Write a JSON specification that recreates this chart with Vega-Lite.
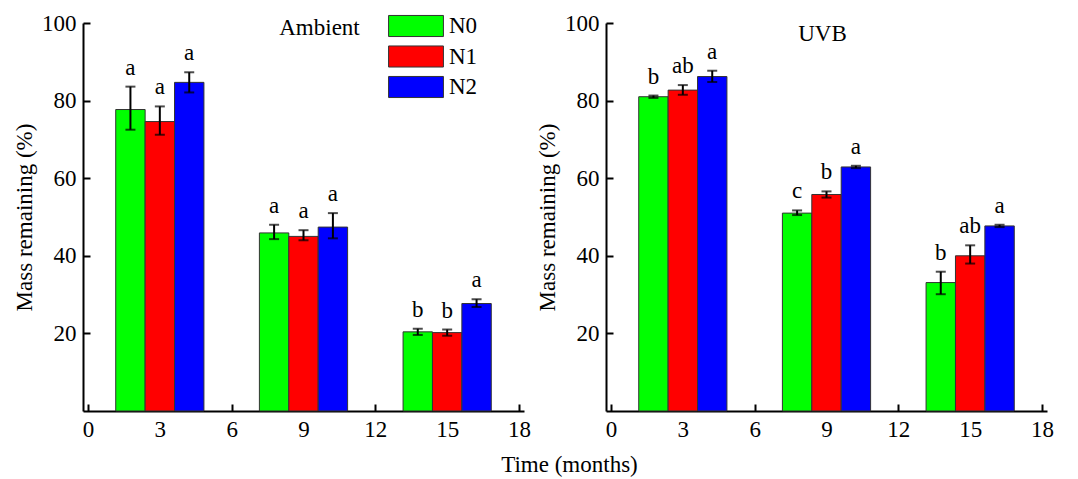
{
  "$schema": "https://vega.github.io/schema/vega-lite/v6.json",
  "background": "white",
  "padding": {"left": 13, "top": 10, "right": 0, "bottom": 0},
  "title": {"text": "Time (months)", "orient": "bottom", "anchor": "middle", "dx": 36, "offset": 13, "font": "Liberation Serif", "fontSize": 23, "fontWeight": "normal", "color": "black"},
  "data": {"values": [
    {"panel": "Ambient", "month": 3, "group": "N0", "mass": 77.7, "lo": 72.5, "hi": 83.6, "letter": "a"},
    {"panel": "Ambient", "month": 3, "group": "N1", "mass": 74.6, "lo": 71.2, "hi": 78.5, "letter": "a"},
    {"panel": "Ambient", "month": 3, "group": "N2", "mass": 84.7, "lo": 82.1, "hi": 87.3, "letter": "a"},
    {"panel": "Ambient", "month": 9, "group": "N0", "mass": 45.9, "lo": 44.3, "hi": 48.0, "letter": "a"},
    {"panel": "Ambient", "month": 9, "group": "N1", "mass": 45.0, "lo": 44.0, "hi": 46.6, "letter": "a"},
    {"panel": "Ambient", "month": 9, "group": "N2", "mass": 47.4, "lo": 44.5, "hi": 51.0, "letter": "a"},
    {"panel": "Ambient", "month": 15, "group": "N0", "mass": 20.4, "lo": 19.6, "hi": 21.2, "letter": "b"},
    {"panel": "Ambient", "month": 15, "group": "N1", "mass": 20.2, "lo": 19.4, "hi": 21.0, "letter": "b"},
    {"panel": "Ambient", "month": 15, "group": "N2", "mass": 27.7, "lo": 26.8, "hi": 28.8, "letter": "a"},
    {"panel": "UVB", "month": 3, "group": "N0", "mass": 81.0, "lo": 80.7, "hi": 81.3, "letter": "b"},
    {"panel": "UVB", "month": 3, "group": "N1", "mass": 82.7, "lo": 81.5, "hi": 84.0, "letter": "ab"},
    {"panel": "UVB", "month": 3, "group": "N2", "mass": 86.2, "lo": 84.8, "hi": 87.7, "letter": "a"},
    {"panel": "UVB", "month": 9, "group": "N0", "mass": 51.0, "lo": 50.5, "hi": 51.7, "letter": "c"},
    {"panel": "UVB", "month": 9, "group": "N1", "mass": 55.8, "lo": 55.0, "hi": 56.6, "letter": "b"},
    {"panel": "UVB", "month": 9, "group": "N2", "mass": 62.9, "lo": 62.6, "hi": 63.2, "letter": "a"},
    {"panel": "UVB", "month": 15, "group": "N0", "mass": 33.1, "lo": 30.1, "hi": 35.9, "letter": "b"},
    {"panel": "UVB", "month": 15, "group": "N1", "mass": 40.0, "lo": 38.0, "hi": 42.7, "letter": "ab"},
    {"panel": "UVB", "month": 15, "group": "N2", "mass": 47.7, "lo": 47.4, "hi": 48.0, "letter": "a"}
  ]},
  "spacing": 5,
  "resolve": {"legend": {"color": "independent"}},
  "hconcat": [
    {
      "width": 441, "height": 388,
      "title": {"text": "Ambient", "anchor": "middle", "frame": "group", "orient": "top", "offset": -48, "dx": 16, "baseline": "alphabetic", "font": "Liberation Serif", "fontSize": 23, "fontWeight": "normal", "color": "black"},
      "transform": [{"filter": "datum.panel === 'Ambient'"}],
      "encoding": {
        "x": {"field": "month", "type": "quantitative", "title": null, "scale": {"domain": [0, 18], "nice": false, "zero": false}, "axis": {"values": [0, 3, 6, 9, 12, 15, 18], "title": null}}
      },
      "layer": [
        {"transform": [{"filter": "datum.group === 'N0'"}], "mark": {"type": "bar", "width": 29.4, "xOffset": -29.4, "stroke": "#333333", "strokeWidth": 1},
         "encoding": {"y": {"field": "mass", "type": "quantitative", "title": "Mass remaining (%)", "scale": {"domain": [0, 100], "nice": false}, "axis": {"values": [20, 40, 60, 80, 100]}},
           "color": {"field": "group", "type": "nominal", "scale": {"domain": ["N0", "N1", "N2"], "range": ["#00ff00", "#ff0000", "#0000ff"]},
             "legend": {"orient": "none", "legendX": 317, "legendY": -13, "title": null, "padding": 0, "symbolType": "M-1.77,-0.68H1.77V0.68H-1.77Z", "symbolSize": 961, "symbolStrokeColor": "#333333", "symbolStrokeWidth": 1, "symbolOpacity": 1, "labelFont": "Liberation Serif", "labelFontSize": 23, "labelColor": "black", "rowPadding": 1.5, "labelOffset": 17}}}},
        {"transform": [{"filter": "datum.group === 'N1'"}], "mark": {"type": "bar", "width": 29.4, "xOffset": 0, "stroke": "#333333", "strokeWidth": 1},
         "encoding": {"y": {"field": "mass", "type": "quantitative", "title": "Mass remaining (%)", "scale": {"domain": [0, 100], "nice": false}, "axis": {"values": [20, 40, 60, 80, 100]}},
           "color": {"field": "group", "type": "nominal"}}},
        {"transform": [{"filter": "datum.group === 'N2'"}], "mark": {"type": "bar", "width": 29.4, "xOffset": 29.4, "stroke": "#333333", "strokeWidth": 1},
         "encoding": {"y": {"field": "mass", "type": "quantitative", "title": "Mass remaining (%)", "scale": {"domain": [0, 100], "nice": false}, "axis": {"values": [20, 40, 60, 80, 100]}},
           "color": {"field": "group", "type": "nominal"}}},
        {"transform": [{"filter": "datum.group === 'N0'"}], "mark": {"type": "errorbar", "color": "black", "rule": {"strokeWidth": 2, "xOffset": -29.4}, "ticks": {"size": 10, "thickness": 2, "xOffset": -29.4}},
         "encoding": {"y": {"field": "lo", "type": "quantitative", "title": "Mass remaining (%)", "scale": {"domain": [0, 100], "nice": false}}, "y2": {"field": "hi"}}},
        {"transform": [{"filter": "datum.group === 'N1'"}], "mark": {"type": "errorbar", "color": "black", "rule": {"strokeWidth": 2}, "ticks": {"size": 10, "thickness": 2}},
         "encoding": {"y": {"field": "lo", "type": "quantitative", "title": "Mass remaining (%)", "scale": {"domain": [0, 100], "nice": false}}, "y2": {"field": "hi"}}},
        {"transform": [{"filter": "datum.group === 'N2'"}], "mark": {"type": "errorbar", "color": "black", "rule": {"strokeWidth": 2, "xOffset": 29.4}, "ticks": {"size": 10, "thickness": 2, "xOffset": 29.4}},
         "encoding": {"y": {"field": "lo", "type": "quantitative", "title": "Mass remaining (%)", "scale": {"domain": [0, 100], "nice": false}}, "y2": {"field": "hi"}}},
        {"transform": [{"filter": "datum.group === 'N0'"}], "mark": {"type": "text", "xOffset": -29.4, "dy": -12, "baseline": "alphabetic", "font": "Liberation Serif", "fontSize": 23, "color": "black"},
         "encoding": {"y": {"field": "hi", "type": "quantitative", "title": "Mass remaining (%)", "scale": {"domain": [0, 100], "nice": false}}, "text": {"field": "letter"}}},
        {"transform": [{"filter": "datum.group === 'N1'"}], "mark": {"type": "text", "dy": -12, "baseline": "alphabetic", "font": "Liberation Serif", "fontSize": 23, "color": "black"},
         "encoding": {"y": {"field": "hi", "type": "quantitative", "title": "Mass remaining (%)", "scale": {"domain": [0, 100], "nice": false}}, "text": {"field": "letter"}}},
        {"transform": [{"filter": "datum.group === 'N2'"}], "mark": {"type": "text", "xOffset": 29.4, "dy": -12, "baseline": "alphabetic", "font": "Liberation Serif", "fontSize": 23, "color": "black"},
         "encoding": {"y": {"field": "hi", "type": "quantitative", "title": "Mass remaining (%)", "scale": {"domain": [0, 100], "nice": false}}, "text": {"field": "letter"}}}
      ]
    },
    {
      "width": 441, "height": 388,
      "title": {"text": "UVB", "anchor": "middle", "frame": "group", "orient": "top", "offset": -52, "dx": -4, "baseline": "alphabetic", "font": "Liberation Serif", "fontSize": 23, "fontWeight": "normal", "color": "black"},
      "transform": [{"filter": "datum.panel === 'UVB'"}],
      "encoding": {
        "x": {"field": "month", "type": "quantitative", "title": null, "scale": {"domain": [0, 18], "nice": false, "zero": false}, "axis": {"values": [0, 3, 6, 9, 12, 15, 18], "title": null}}
      },
      "layer": [
        {"transform": [{"filter": "datum.group === 'N0'"}], "mark": {"type": "bar", "width": 29.4, "xOffset": -29.4, "stroke": "#333333", "strokeWidth": 1},
         "encoding": {"y": {"field": "mass", "type": "quantitative", "title": "Mass remaining (%)", "scale": {"domain": [0, 100], "nice": false}, "axis": {"values": [20, 40, 60, 80, 100]}},
           "color": {"field": "group", "type": "nominal", "legend": null}}},
        {"transform": [{"filter": "datum.group === 'N1'"}], "mark": {"type": "bar", "width": 29.4, "xOffset": 0, "stroke": "#333333", "strokeWidth": 1},
         "encoding": {"y": {"field": "mass", "type": "quantitative", "title": "Mass remaining (%)", "scale": {"domain": [0, 100], "nice": false}, "axis": {"values": [20, 40, 60, 80, 100]}},
           "color": {"field": "group", "type": "nominal", "legend": null}}},
        {"transform": [{"filter": "datum.group === 'N2'"}], "mark": {"type": "bar", "width": 29.4, "xOffset": 29.4, "stroke": "#333333", "strokeWidth": 1},
         "encoding": {"y": {"field": "mass", "type": "quantitative", "title": "Mass remaining (%)", "scale": {"domain": [0, 100], "nice": false}, "axis": {"values": [20, 40, 60, 80, 100]}},
           "color": {"field": "group", "type": "nominal", "legend": null}}},
        {"transform": [{"filter": "datum.group === 'N0'"}], "mark": {"type": "errorbar", "color": "black", "rule": {"strokeWidth": 2, "xOffset": -29.4}, "ticks": {"size": 10, "thickness": 2, "xOffset": -29.4}},
         "encoding": {"y": {"field": "lo", "type": "quantitative", "title": "Mass remaining (%)", "scale": {"domain": [0, 100], "nice": false}}, "y2": {"field": "hi"}}},
        {"transform": [{"filter": "datum.group === 'N1'"}], "mark": {"type": "errorbar", "color": "black", "rule": {"strokeWidth": 2}, "ticks": {"size": 10, "thickness": 2}},
         "encoding": {"y": {"field": "lo", "type": "quantitative", "title": "Mass remaining (%)", "scale": {"domain": [0, 100], "nice": false}}, "y2": {"field": "hi"}}},
        {"transform": [{"filter": "datum.group === 'N2'"}], "mark": {"type": "errorbar", "color": "black", "rule": {"strokeWidth": 2, "xOffset": 29.4}, "ticks": {"size": 10, "thickness": 2, "xOffset": 29.4}},
         "encoding": {"y": {"field": "lo", "type": "quantitative", "title": "Mass remaining (%)", "scale": {"domain": [0, 100], "nice": false}}, "y2": {"field": "hi"}}},
        {"transform": [{"filter": "datum.group === 'N0'"}], "mark": {"type": "text", "xOffset": -29.4, "dy": -12, "baseline": "alphabetic", "font": "Liberation Serif", "fontSize": 23, "color": "black"},
         "encoding": {"y": {"field": "hi", "type": "quantitative", "title": "Mass remaining (%)", "scale": {"domain": [0, 100], "nice": false}}, "text": {"field": "letter"}}},
        {"transform": [{"filter": "datum.group === 'N1'"}], "mark": {"type": "text", "dy": -12, "baseline": "alphabetic", "font": "Liberation Serif", "fontSize": 23, "color": "black"},
         "encoding": {"y": {"field": "hi", "type": "quantitative", "title": "Mass remaining (%)", "scale": {"domain": [0, 100], "nice": false}}, "text": {"field": "letter"}}},
        {"transform": [{"filter": "datum.group === 'N2'"}], "mark": {"type": "text", "xOffset": 29.4, "dy": -12, "baseline": "alphabetic", "font": "Liberation Serif", "fontSize": 23, "color": "black"},
         "encoding": {"y": {"field": "hi", "type": "quantitative", "title": "Mass remaining (%)", "scale": {"domain": [0, 100], "nice": false}}, "text": {"field": "letter"}}}
      ]
    }
  ],
  "config": {
    "font": "Liberation Serif",
    "view": {"stroke": null},
    "axis": {"labelFont": "Liberation Serif", "labelFontSize": 23, "labelColor": "black", "titleFont": "Liberation Serif", "titleFontSize": 23, "titleFontWeight": "normal", "titleColor": "black", "domainColor": "black", "domainWidth": 2, "tickColor": "black", "tickWidth": 2, "tickSize": -7, "labelPadding": 14, "grid": false, "labelFlush": false, "labelOverlap": false, "titlePadding": 5}
  }
}
